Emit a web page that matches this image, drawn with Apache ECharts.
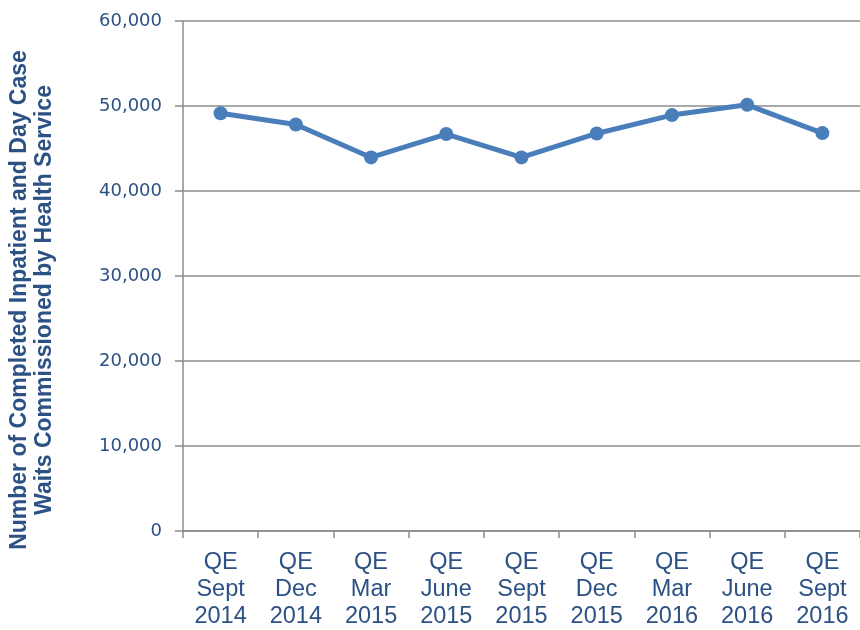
<!DOCTYPE html>
<html><head><meta charset="utf-8">
<script src="https://cdn.jsdelivr.net/npm/echarts@6/dist/echarts.min.js"></script>
<style>html,body{margin:0;padding:0;background:#fff}#c{width:860px;height:630px}</style>
</head><body><div id="c"></div>
<script>
const categories = ['QE\nSept\n2014','QE\nDec\n2014','QE\nMar\n2015','QE\nJune\n2015','QE\nSept\n2015','QE\nDec\n2015','QE\nMar\n2016','QE\nJune\n2016','QE\nSept\n2016'];
const waits = [49150, 47820, 43950, 46700, 43950, 46770, 48930, 50140, 46810];
const yTitle = 'Number of Completed Inpatient and Day Case\nWaits Commissioned by Health Service';
const textColor = '#2C5184';
const chart = echarts.init(document.getElementById('c'));
chart.setOption({
  animation: false,
  grid: {left: 183, right: -2, top: 21, bottom: 98},
  xAxis: {
    type: 'category', data: categories, boundaryGap: true,
    axisLine: {lineStyle: {color: '#8c8c8c', width: 1.5}},
    axisTick: {show: true, length: 7, lineStyle: {color: '#8c8c8c', width: 1.5}},
    axisLabel: {color: textColor, fontFamily: 'Liberation Sans, Arial', fontSize: 23.5, lineHeight: 27, margin: 18, interval: 0}
  },
  yAxis: {
    type: 'value', min: 0, max: 60000, interval: 10000,
    axisLine: {show: true, lineStyle: {color: '#8c8c8c', width: 1.5}},
    axisTick: {show: true, length: 8, lineStyle: {color: '#8c8c8c', width: 1.5}},
    splitLine: {lineStyle: {color: '#8c8c8c', width: 1.5}},
    axisLabel: {color: textColor, fontFamily: 'DejaVu Sans, Verdana', fontSize: 18, margin: 21,
      formatter: v => v.toLocaleString('en-US')}
  },
  graphic: [{
    type: 'text', x: 32, y: 300, rotation: Math.PI / 2,
    style: {text: yTitle, fill: textColor, font: 'bold 23px "Liberation Sans", Arial', align: 'center', verticalAlign: 'middle', lineHeight: 25}
  }],
  series: [{
    type: 'line', data: waits,
    lineStyle: {color: '#4A7EBB', width: 5},
    itemStyle: {color: '#4A7EBB'},
    symbol: 'circle', symbolSize: 14
  }]
});
</script></body></html>
